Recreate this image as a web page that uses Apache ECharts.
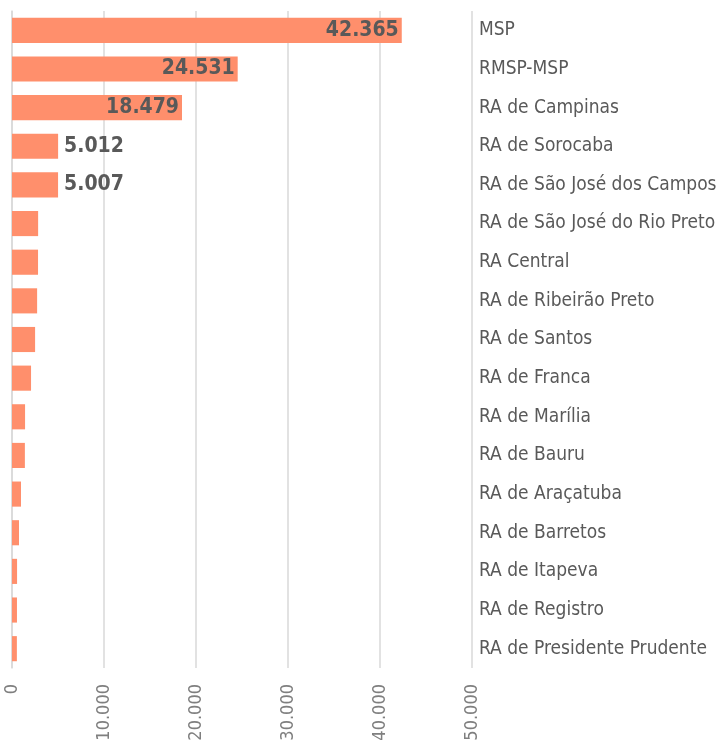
<!DOCTYPE html>
<html>
<head>
<meta charset="utf-8">
<script src="https://cdn.jsdelivr.net/npm/echarts@6/dist/echarts.min.js"></script>
<style>html,body{margin:0;padding:0;background:#fff}#c{width:728px;height:744px}</style>
</head>
<body>
<div id="c"></div>
<script>
const categories = ["MSP","RMSP-MSP","RA de Campinas","RA de Sorocaba","RA de São José dos Campos","RA de São José do Rio Preto","RA Central","RA de Ribeirão Preto","RA de Santos","RA de Franca","RA de Marília","RA de Bauru","RA de Araçatuba","RA de Barretos","RA de Itapeva","RA de Registro","RA de Presidente Prudente"];
const values = [42365,24531,18479,5012,5007,2840,2830,2730,2510,2070,1420,1400,980,760,550,540,530];
const xTicks = [0,10000,20000,30000,40000,50000];

function fmt(v){return String(v).replace(/\B(?=(\d{3})+(?!\d))/g,'.');}
const FONT = "'DejaVu Sans Condensed','Liberation Sans Narrow',sans-serif";

const data = values.map((v,i)=>{
  const item = {value:v};
  if (i < 3) item.label = {show:true, position:'insideRight', distance:3};
  else if (i < 5) item.label = {show:true, position:'right', distance:6};
  return item;
});

const chart = echarts.init(document.getElementById('c'), null, {renderer:'canvas'});
chart.setOption({
  animation:false,
  grid:{left:12, right:256, top:11, bottom:76, containLabel:false, outerBoundsMode:'none'},
  xAxis:{
    type:'value', min:xTicks[0], max:xTicks[xTicks.length-1], interval:xTicks[1]-xTicks[0],
    axisLine:{show:false}, axisTick:{show:false},
    splitLine:{show:true, lineStyle:{color:'#d9d9d9', width:1.5}},
    axisLabel:{rotate:90, margin:16, fontSize:18, color:'#7f7f7f', fontFamily:FONT, formatter:fmt}
  },
  yAxis:{
    type:'category', inverse:true, position:'right', data:categories,
    axisLine:{show:true, lineStyle:{color:'#d9d9d9', width:1.5}},
    axisTick:{show:false},
    axisLabel:{margin:7, fontSize:19, color:'#595959', fontFamily:FONT}
  },
  series:[{
    type:'bar', data:data, barCategoryGap:'35%',
    itemStyle:{color:'#FF8F6C'},
    label:{show:false, fontSize:21, fontWeight:'bold', color:'#595959', fontFamily:FONT, formatter:p=>fmt(p.value)}
  }]
});
</script>
</body>
</html>
